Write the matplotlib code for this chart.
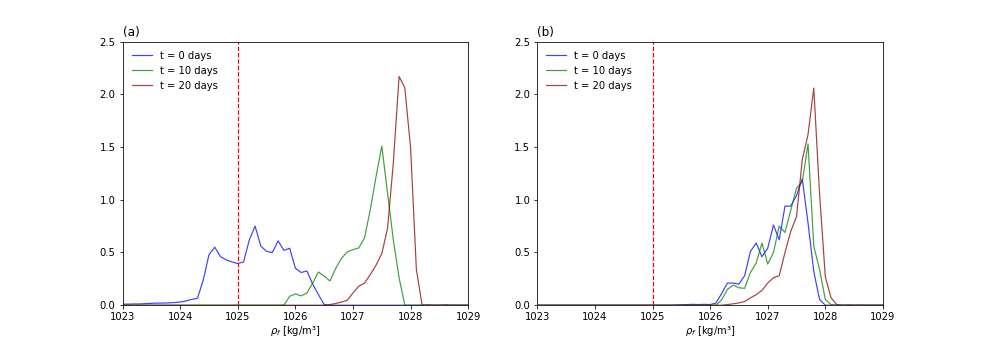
import numpy as np
import matplotlib
matplotlib.use("Agg")
import matplotlib.pyplot as plt

# density bins (kg/m3), 0.1 spacing
rho = np.round(np.arange(1023.0, 1029.01, 0.1), 1)

# panel (a) pdf values, keyed by bin start
a_t0 = {1023.0: 0.01, 1023.1: 0.01, 1023.2: 0.012, 1023.3: 0.012, 1023.4: 0.015,
        1023.5: 0.018, 1023.6: 0.02, 1023.7: 0.02, 1023.8: 0.022, 1023.9: 0.025,
        1024.0: 0.03, 1024.1: 0.04, 1024.2: 0.055, 1024.3: 0.066, 1024.4: 0.24,
        1024.5: 0.48, 1024.6: 0.55, 1024.7: 0.46, 1024.8: 0.43, 1024.9: 0.41,
        1025.0: 0.395, 1025.1: 0.41, 1025.2: 0.62, 1025.3: 0.75, 1025.4: 0.56,
        1025.5: 0.51, 1025.6: 0.50, 1025.7: 0.61, 1025.8: 0.52, 1025.9: 0.54,
        1026.0: 0.35, 1026.1: 0.31, 1026.2: 0.325, 1026.3: 0.2, 1026.4: 0.1,
        1026.5: 0.005}
a_t10 = {1025.9: 0.085, 1026.0: 0.107, 1026.1: 0.088, 1026.2: 0.117, 1026.3: 0.21,
         1026.4: 0.315, 1026.5: 0.275, 1026.6: 0.23, 1026.7: 0.35, 1026.8: 0.445,
         1026.9: 0.505, 1027.0: 0.527, 1027.1: 0.543, 1027.2: 0.64, 1027.3: 0.906,
         1027.4: 1.22, 1027.5: 1.51, 1027.6: 1.06, 1027.7: 0.62, 1027.8: 0.26}
a_t20 = {1026.6: 0.006, 1026.7: 0.016, 1026.8: 0.03, 1026.9: 0.047, 1027.0: 0.117,
         1027.1: 0.18, 1027.2: 0.21, 1027.3: 0.29, 1027.4: 0.38, 1027.5: 0.49,
         1027.6: 0.73, 1027.7: 1.35, 1027.8: 2.17, 1027.9: 2.06, 1028.0: 1.49,
         1028.1: 0.34, 1028.3: 0.003, 1028.6: 0.003}

# panel (b)
b_t0 = {1025.4: 0.002, 1025.5: 0.004, 1025.6: 0.006, 1025.7: 0.008, 1025.8: 0.006,
        1025.9: 0.008, 1026.0: 0.006, 1026.1: 0.02, 1026.2: 0.11, 1026.3: 0.21,
        1026.4: 0.21, 1026.5: 0.2, 1026.6: 0.28, 1026.7: 0.51, 1026.8: 0.59,
        1026.9: 0.46, 1027.0: 0.54, 1027.1: 0.76, 1027.2: 0.62, 1027.3: 0.94,
        1027.4: 0.94, 1027.5: 1.04, 1027.6: 1.2, 1027.7: 0.78, 1027.8: 0.32,
        1027.9: 0.054}
b_t10 = {1026.2: 0.05, 1026.3: 0.15, 1026.4: 0.19, 1026.5: 0.165, 1026.6: 0.16,
         1026.7: 0.31, 1026.8: 0.4, 1026.9: 0.59, 1027.0: 0.39, 1027.1: 0.5,
         1027.2: 0.75, 1027.3: 0.69, 1027.4: 0.9, 1027.5: 1.11, 1027.6: 1.17,
         1027.7: 1.53, 1027.8: 0.56, 1027.9: 0.34, 1028.0: 0.054, 1028.1: 0.006}
b_t20 = {1026.3: 0.006, 1026.4: 0.013, 1026.5: 0.022, 1026.6: 0.035, 1026.7: 0.07,
         1026.8: 0.1, 1026.9: 0.14, 1027.0: 0.21, 1027.1: 0.26, 1027.2: 0.28,
         1027.3: 0.5, 1027.4: 0.7, 1027.5: 0.84, 1027.6: 1.38, 1027.7: 1.62,
         1027.8: 2.06, 1027.9: 1.06, 1028.0: 0.27, 1028.1: 0.07, 1028.2: 0.006,
         1028.4: 0.002, 1028.6: 0.002}

labels = ['t = 0 days', 't = 10 days', 't = 20 days']
colors = ['blue', 'green', 'darkred']
rho_crit = 1025.0


def to_arr(d):
    return np.array([d.get(r, 0.0) for r in rho])


fig, axs = plt.subplots(1, 2, figsize=(981 / 72, 350 / 72), dpi=72)
fig.subplots_adjust(left=0.125, right=0.9, bottom=0.128, top=0.881, wspace=0.2)

for ax, series, tag in zip(axs, [[a_t0, a_t10, a_t20], [b_t0, b_t10, b_t20]], ['(a)', '(b)']):
    for d, lab, c in zip(series, labels, colors):
        ax.plot(rho, to_arr(d), color=c, lw=1.2, alpha=0.75, label=lab)
    ax.axvline(rho_crit, color='red', ls='--', lw=1.2)
    ax.set_xlim(1023, 1029)
    ax.set_ylim(0, 2.5)
    ax.set_xlabel(r'$\rho_f$ [kg/m³]', labelpad=2)
    ax.legend(loc='upper left', frameon=False)
    ax.set_title(tag, loc='left')

fig.savefig('out.png', dpi=72)
